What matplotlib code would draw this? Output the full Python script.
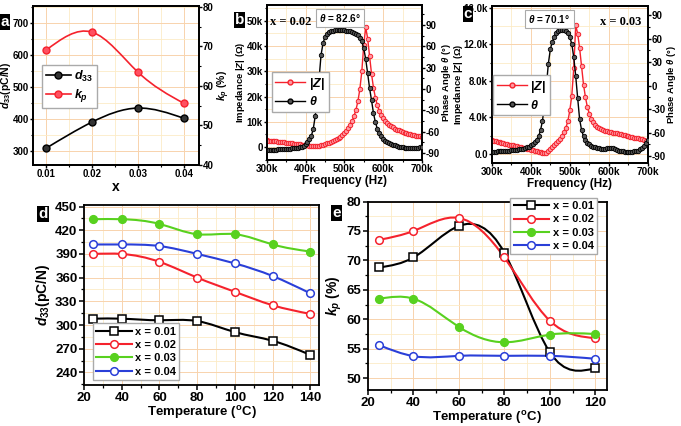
import numpy as np
import matplotlib
matplotlib.use('Agg')
import matplotlib.pyplot as plt
from matplotlib.path import Path
from matplotlib.patches import PathPatch
from matplotlib.lines import Line2D
from matplotlib.ticker import MultipleLocator, FuncFormatter

plt.rcParams['font.family'] = ['Liberation Sans', 'DejaVu Sans']
plt.rcParams['font.weight'] = 'bold'
plt.rcParams['axes.labelweight'] = 'bold'
plt.rcParams['axes.unicode_minus'] = False
plt.rcParams['mathtext.fontset'] = 'custom'
plt.rcParams['mathtext.rm'] = 'Liberation Sans:bold'
plt.rcParams['mathtext.bf'] = 'Liberation Sans:bold'
plt.rcParams['mathtext.it'] = 'Liberation Sans:italic:bold'

# ---- data ----
# (a) composition dependence
comp = [0.01, 0.02, 0.03, 0.04]
d33_comp = [308, 390, 434, 402]
kp_comp = [69.0, 73.6, 63.5, 55.6]

# (b),(c) impedance (kOhm) / phase (deg) spectra, 5 kHz steps 300k..700k
freq_khz = np.arange(300, 705, 5)
z_b = [2.6, 2.5, 2.45, 2.4, 2.3, 2.2, 2.1, 2.0, 1.9, 1.8,
       1.7, 1.6, 1.5, 1.4, 1.3, 1.2, 1.1, 1.0, 0.9, 0.8,
       0.7, 0.6, 0.5, 0.4, 0.3, 0.3, 0.35, 0.5, 0.7, 0.9,
       1.1, 1.4, 1.7, 2.0, 2.3, 2.7, 3.1, 3.6, 4.1, 4.7,
       5.4, 6.3, 7.4, 8.7, 10.3, 12.3, 14.8, 18.2, 23.0, 30.0,
       40.5, 47.5, 43.0, 36.0, 29.0, 23.5, 19.5, 16.5, 14.3, 12.8,
       11.5, 10.5, 9.6, 8.9, 8.3, 7.8, 7.3, 6.9, 6.6, 6.3,
       6.0, 5.7, 5.5, 5.3, 5.1, 4.9, 4.7, 4.5, 4.4, 4.2, 4.0]
th_b = [-86, -86, -85.8, -85.6, -85.5, -85.3, -85.1, -85, -84.8, -84.6,
        -84.4, -84.2, -84, -83.7, -83.4, -83, -82.5, -82, -81, -80,
        -78, -75, -71, -66, -56, -38, -15, 15, 48, 64,
        73, 77, 79.5, 81, 82, 82.5, 82.6, 82.6, 82.6, 82.5,
        82.3, 82, 81.5, 81, 80, 79, 77.5, 75.5, 72, 67,
        57, 42, 22, 1, -16, -34, -47, -56, -62, -66.5,
        -70, -72.5, -74.5, -76, -77.5, -78.5, -79.5, -80.5, -81, -81.5,
        -82, -82.5, -83, -83, -83.5, -83.5, -83.5, -83, -82.5, -82, -81]
z_c = [1.50, 1.45, 1.40, 1.35, 1.30, 1.24, 1.19, 1.14, 1.09, 1.03,
       0.98, 0.93, 0.88, 0.82, 0.77, 0.72, 0.67, 0.61, 0.56, 0.51,
       0.46, 0.40, 0.35, 0.30, 0.25, 0.19, 0.14, 0.10, 0.15, 0.30,
       0.50, 0.72, 0.95, 1.2, 1.45, 1.6, 2.0, 2.4, 2.9, 3.6,
       4.8, 6.4, 9.4, 14.1, 13.2, 11.6, 9.6, 7.6, 6.2, 5.1,
       4.4, 3.85, 3.45, 3.2, 3.0, 2.85, 2.75, 2.65, 2.55, 2.5,
       2.45, 2.4, 2.35, 2.3, 2.25, 2.2, 2.15, 2.1, 2.05, 2.0,
       1.95, 1.9, 1.85, 1.8, 1.75, 1.7, 1.65, 1.6, 1.5, 1.45, 1.4]
th_c = [-84.5, -84.5, -84.3, -84.2, -84, -83.8, -83.6, -83.4, -83.2, -83,
        -82.8, -82.5, -82.2, -82, -81.5, -81, -80.5, -79.8, -79, -78,
        -76.5, -74.5, -72, -69, -65, -57, -45, -24, 0, 28,
        46, 56, 62, 66.5, 69, 70.5, 71, 70.8, 69.5, 66.5,
        62, 53, 36, 12, -16, -43, -57, -65, -70, -73,
        -75, -77, -78, -79, -79.5, -80, -80.5, -80.5, -80.5, -80,
        -79.5, -79.5, -80, -81, -82, -83, -83.5, -84, -84.5, -84.5,
        -84.5, -84.5, -84.5, -84, -83.5, -83, -81.5, -79.5, -77, -73.5, -69.5]

# (d),(e) temperature dependence
temp_d = [25, 40, 60, 80, 100, 120, 140]
d33_t = {
    'x = 0.01': [308, 308, 306, 305, 291, 280, 262],
    'x = 0.02': [390, 390, 380, 360, 342, 325, 314],
    'x = 0.03': [434, 434, 428, 415, 415, 402, 393],
    'x = 0.04': [402, 402, 400, 390, 378, 362, 340],
}
temp_e = [25, 40, 60, 80, 100, 120]
kp_t = {
    'x = 0.01': [68.8, 70.5, 75.85, 71.3, 54.4, 51.7],
    'x = 0.02': [73.5, 75.0, 77.2, 70.5, 59.75, 56.8],
    'x = 0.03': [63.5, 63.5, 58.7, 56.1, 57.4, 57.5],
    'x = 0.04': [55.6, 53.75, 53.8, 53.8, 53.8, 53.3],
}
series_style = {
    'x = 0.01': ('black', 's', 'white'),
    'x = 0.02': ('#f5222d', 'o', 'white'),
    'x = 0.03': ('#58d11f', 'o', '#58d11f'),
    'x = 0.04': ('#2a3fd8', 'o', 'white'),
}

RED = '#f5222d'
W, H = 681, 426
fig = plt.figure(figsize=(W / 100, H / 100), dpi=100)


def px_axes(x0, y0, x1, y1):
    return fig.add_axes([x0 / W, 1 - y1 / H, (x1 - x0) / W, (y1 - y0) / H])


def spline(ax, x, y, **kw):
    # natural cubic spline drawn as bezier segments through the data points
    x = np.asarray(x, float)
    y = np.asarray(y, float)
    n = len(x)
    h = np.diff(x)
    d = np.diff(y) / h
    A = np.zeros((n, n))
    b = np.zeros(n)
    A[0, 0], A[0, 1], b[0] = 2, 1, 3 * d[0]
    A[-1, -2], A[-1, -1], b[-1] = 1, 2, 3 * d[-1]
    for i in range(1, n - 1):
        A[i, i - 1] = h[i]
        A[i, i] = 2 * (h[i - 1] + h[i])
        A[i, i + 1] = h[i - 1]
        b[i] = 3 * (h[i] * d[i - 1] + h[i - 1] * d[i])
    m = np.linalg.solve(A, b)
    verts = [(x[0], y[0])]
    codes = [Path.MOVETO]
    for i in range(n - 1):
        verts += [(x[i] + h[i] / 3, y[i] + m[i] * h[i] / 3),
                  (x[i + 1] - h[i] / 3, y[i + 1] - m[i + 1] * h[i] / 3),
                  (x[i + 1], y[i + 1])]
        codes += [Path.CURVE4] * 3
    ax.add_patch(PathPatch(Path(verts, codes), fill=False, **kw))


def style(ax, fs, grid=True, small=False):
    for s in ax.spines.values():
        s.set_linewidth(1.3)
    if small:
        ax.tick_params(which='major', direction='out', length=2.5, width=1.0, labelsize=fs, pad=0.4)
        ax.tick_params(which='minor', direction='out', length=1.5, width=0.8)
    else:
        ax.tick_params(which='major', direction='out', length=3.5, width=1.1, labelsize=fs, pad=1.2)
        ax.tick_params(which='minor', direction='out', length=2, width=0.9)
    if grid:
        ax.set_axisbelow(True)
        ax.grid(which='major', color='#f8d3ad', lw=0.7)
        ax.grid(which='minor', color='#fcebc6', lw=0.6)


def panel_label(x, y, s):
    fig.text(x / W, 1 - y / H, s, color='white', fontsize=11, weight='bold',
             ha='center', va='center', zorder=10,
             bbox=dict(boxstyle='square,pad=0.08', fc='black', ec='none'))


leg_kw = dict(frameon=True, fancybox=False, edgecolor='#aaaaaa', framealpha=1,
              borderpad=0.3, labelspacing=0.3, handletextpad=0.3, borderaxespad=0)

# ---------------- (a) ----------------
ax = px_axes(33, 6, 199, 165)
ax2 = ax.twinx()
ax.set_xlim(0.0072, 0.0433)
ax.set_ylim(256, 753)
ax2.set_ylim(40, 80.2)
spline(ax, comp, d33_comp, edgecolor='black', lw=1.2, zorder=3)
ax.plot(comp, d33_comp, ls='none', marker='o', ms=5, color='black', mfc='#333333', zorder=4)
spline(ax2, comp, kp_comp, edgecolor=RED, lw=1.2, zorder=3)
ax2.plot(comp, kp_comp, ls='none', marker='o', ms=5, color=RED, mfc='#ff5060', zorder=4)
ax.xaxis.set_major_locator(MultipleLocator(0.01))
ax.xaxis.set_minor_locator(MultipleLocator(0.005))
ax.xaxis.set_major_formatter(FuncFormatter(lambda v, p: f'{v:.2f}'))
ax.yaxis.set_major_locator(MultipleLocator(100))
ax.yaxis.set_minor_locator(MultipleLocator(50))
ax2.yaxis.set_major_locator(MultipleLocator(10))
ax2.yaxis.set_minor_locator(MultipleLocator(5))
style(ax, 7, small=True)
style(ax2, 7, grid=False, small=True)
ax.set_xlabel('x', fontsize=10, labelpad=1)
ax.set_ylabel('$d_{33}$(pC/N)', fontsize=7.5)
ax.yaxis.set_label_coords(-0.118, 0.5)
ax2.set_ylabel('$k_p$ (%)', fontsize=7.5)
ax2.yaxis.set_label_coords(1.102, 0.5)
h = [Line2D([], [], color='black', marker='o', ms=5, mfc='#333333', lw=1.2),
     Line2D([], [], color=RED, marker='o', ms=5, mfc='#ff5060', lw=1.2)]
ax2.legend(h, ['$d_{33}$', '$k_p$'], loc='upper left', bbox_to_anchor=(0.054, 0.63),
           fontsize=9, handlelength=2.0, **leg_kw)
panel_label(5, 22, 'a')


# ---------------- (b), (c) ----------------
def spectrum(box, z, th, zlim, thlim, zstep, zfmt, label, tx, theta_txt, thx, lab_l, lab_r):
    ax = px_axes(*box)
    ax2 = ax.twinx()
    ax.plot(freq_khz, z, '-o', color=RED, lw=1, ms=3.2, mfc='#ff9aa2', mec=RED, mew=0.7, zorder=3)
    ax2.plot(freq_khz, th, '-o', color='black', lw=1, ms=3.2, mfc='#555555', mec='black', mew=0.6, zorder=3)
    ax.set_xlim(300, 700)
    ax.set_ylim(*zlim)
    ax2.set_ylim(*thlim)
    ax.xaxis.set_major_locator(MultipleLocator(100))
    ax.xaxis.set_minor_locator(MultipleLocator(50))
    ax.xaxis.set_major_formatter(FuncFormatter(lambda v, p: f'{v:.0f}k'))
    ax.yaxis.set_major_locator(MultipleLocator(zstep))
    ax.yaxis.set_minor_locator(MultipleLocator(zstep / 2))
    ax.yaxis.set_major_formatter(FuncFormatter(zfmt))
    ax2.yaxis.set_major_locator(MultipleLocator(30))
    ax2.yaxis.set_minor_locator(MultipleLocator(15))
    style(ax, 7, small=True)
    style(ax2, 7, grid=False, small=True)
    ax.tick_params(axis='x', labelsize=7.2)
    ax.set_xlabel('Frequency (Hz)', fontsize=8.5, labelpad=1)
    ax.set_ylabel('Impedance |$Z$| ($\\Omega$)', fontsize=6.8)
    ax.yaxis.set_label_coords(lab_l, 0.5)
    ax2.set_ylabel('Phase Angle $\\theta$ ($\\degree$)', fontsize=6.8)
    ax2.yaxis.set_label_coords(lab_r, 0.5)
    h = [Line2D([], [], color=RED, marker='o', ms=3.5, mfc='#ff9aa2', lw=1),
         Line2D([], [], color='black', marker='o', ms=3.5, mfc='#555555', lw=1)]
    ax2.legend(h, ['|$Z$|', '$\\theta$'], loc='upper left', bbox_to_anchor=label,
               fontsize=9, handlelength=2.4, **leg_kw)
    fig.text(tx[0] / W, 1 - tx[1] / H, tx[2], family='Liberation Serif', weight='bold',
             fontsize=9, ha='center', va='center')
    fig.text(thx[0] / W, 1 - thx[1] / H, theta_txt, fontsize=7.2, ha='center', va='center',
             bbox=dict(boxstyle='square,pad=0.3', fc='white', ec='#aaaaaa', lw=0.8))
    return ax


spectrum((266.7, 5, 422, 160), z_b, th_b, (-5.16, 56.3), (-99.9, 118.1), 10,
         lambda v, p: '0' if abs(v) < 1e-9 else f'{v:.0f}k',
         (0.032, 0.568), (291, 22, 'x = 0.02'), '$\\theta$ = 82.6°', (340, 17.5),
         -0.13, 1.113)
panel_label(239.5, 20, 'b')

spectrum((491.7, 6, 648, 163), z_c, th_c, (-0.99, 16.22), (-98.9, 101.5), 4,
         lambda v, p: '0.0' if abs(v) < 1e-9 else f'{v:.1f}k',
         (0.008, 0.56), (620.5, 22, 'x = 0.03'), '$\\theta$ = 70.1°', (549.5, 19),
         -0.168, 1.109)
panel_label(468, 14, 'c')

# ---------------- (d) ----------------
ax = px_axes(84, 205, 319.3, 385)
ax.set_xlim(20, 144.7)
ax.set_ylim(224, 452)
handles = []
for name, vals in d33_t.items():
    c, mk, fc = series_style[name]
    spline(ax, temp_d, vals, edgecolor=c, lw=1.5, zorder=3)
    ax.plot(temp_d, vals, ls='none', marker=mk, ms=5.5, color=c, mfc=fc, mew=1.1, zorder=4)
    handles.append(Line2D([], [], color=c, marker=mk, ms=5.5, mfc=fc, mew=1.1, lw=1.5))
ax.xaxis.set_major_locator(MultipleLocator(20))
ax.xaxis.set_minor_locator(MultipleLocator(10))
ax.yaxis.set_major_locator(MultipleLocator(30))
ax.yaxis.set_minor_locator(MultipleLocator(15))
style(ax, 9.5)
ax.set_xlabel('Temperature ($^{\\mathrm{o}}$C)', fontsize=9.5, labelpad=0)
ax.set_ylabel('$d_{33}$(pC/N)', fontsize=10, labelpad=2)
ax.legend(handles, list(d33_t.keys()), loc='lower left', bbox_to_anchor=(0.038, 0.028),
          fontsize=8, handlelength=3.2, **leg_kw)
panel_label(43, 214, 'd')

# ---------------- (e) ----------------
ax = px_axes(368, 201.5, 606.7, 390)
ax.set_xlim(20, 125)
ax.set_ylim(48, 80)
handles = []
for name, vals in kp_t.items():
    c, mk, fc = series_style[name]
    spline(ax, temp_e, vals, edgecolor=c, lw=1.5, zorder=3)
    ax.plot(temp_e, vals, ls='none', marker=mk, ms=5.5, color=c, mfc=fc, mew=1.1, zorder=4)
    handles.append(Line2D([], [], color=c, marker=mk, ms=5.5, mfc=fc, mew=1.1, lw=1.5))
ax.xaxis.set_major_locator(MultipleLocator(20))
ax.xaxis.set_minor_locator(MultipleLocator(10))
ax.yaxis.set_major_locator(MultipleLocator(5))
ax.yaxis.set_minor_locator(MultipleLocator(2.5))
style(ax, 9.5)
ax.set_xlabel('Temperature ($^{\\mathrm{o}}$C)', fontsize=9.5, labelpad=0)
ax.set_ylabel('$k_p$ (%)', fontsize=10, labelpad=2)
ax.legend(handles, list(kp_t.keys()), loc='upper right', bbox_to_anchor=(0.959, 1.02),
          fontsize=8, handlelength=3.2, **leg_kw)
panel_label(336.5, 213, 'e')

fig.savefig('out.png', dpi=100)
